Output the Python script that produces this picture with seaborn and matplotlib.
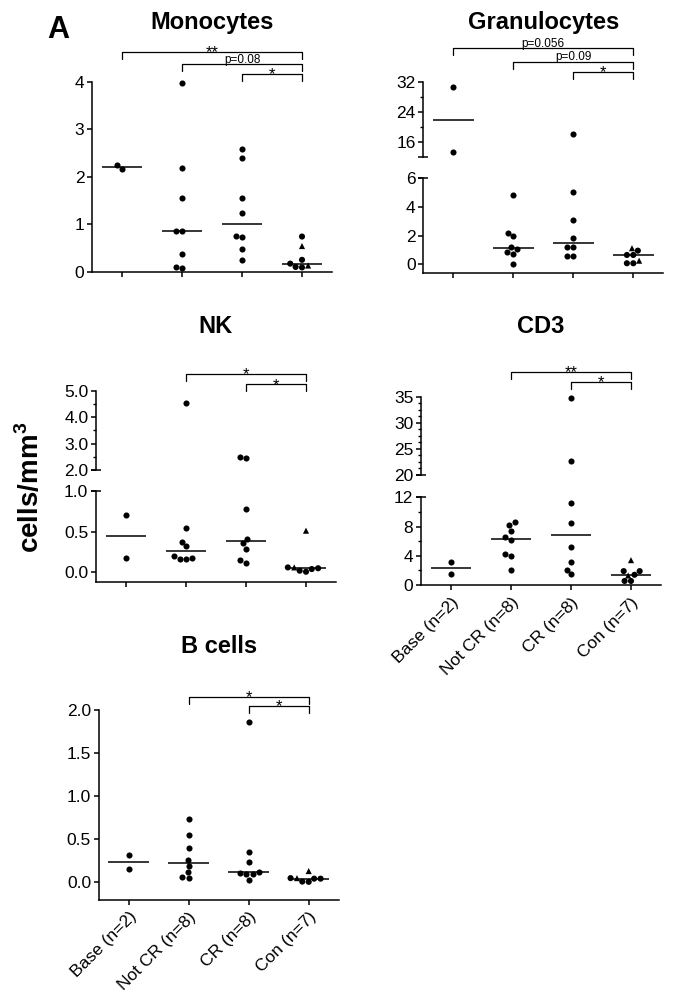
import numpy as np
import pandas as pd
import matplotlib
matplotlib.use('Agg')
import matplotlib.pyplot as plt
import matplotlib.transforms as mtransforms
from matplotlib.markers import MarkerStyle
from matplotlib.ticker import FixedLocator, FormatStrFormatter
import seaborn as sns

groups = ['Base (n=2)', 'Not CR (n=8)', 'CR (n=8)', 'Con (n=7)']

# cells/mm3; *_con_tri marks the triangle points in Con
mono_base = [2.17, 2.24]
mono_notcr = [3.97, 2.18, 1.55, 0.85, 0.85, 0.37, 0.08, 0.10]
mono_cr = [2.58, 2.40, 1.55, 1.24, 0.72, 0.75, 0.47, 0.25]
mono_con = [0.74, 0.54, 0.25, 0.13, 0.09, 0.10, 0.17]
mono_con_tri = [0, 1, 0, 1, 0, 0, 0]
mono_sig = [(0, 3, '**'), (1, 3, 'p=0.08'), (2, 3, '*')]

gran_base = [30.5, 13.3]
gran_notcr = [4.84, 2.21, 1.98, 1.19, 1.05, 0.84, 0.72, 0.05]
gran_cr = [18.1, 5.07, 3.12, 1.81, 1.19, 1.19, 0.60, 0.60]
gran_con = [1.12, 0.95, 0.65, 0.65, 0.25, 0.07, 0.07]
gran_con_tri = [1, 0, 0, 0, 1, 0, 0]
gran_sig = [(0, 3, 'p=0.056'), (1, 3, 'p=0.09'), (2, 3, '*')]

nk_base = [0.70, 0.18]
nk_notcr = [4.52, 0.54, 0.375, 0.32, 0.20, 0.17, 0.16, 0.16]
nk_cr = [2.51, 2.47, 0.78, 0.41, 0.355, 0.29, 0.15, 0.12]
nk_con = [0.51, 0.06, 0.04, 0.007, 0.02, 0.05, 0.06]
nk_con_tri = [1, 0, 0, 0, 0, 0, 1]
nk_sig = [(1, 3, '*'), (2, 3, '*')]

cd3_base = [3.2, 1.5]
cd3_notcr = [8.6, 8.2, 7.4, 6.5, 6.1, 4.3, 4.0, 2.0]
cd3_cr = [34.8, 22.7, 11.2, 8.45, 5.2, 3.2, 2.1, 1.5]
cd3_con = [3.4, 1.9, 1.9, 1.3, 1.4, 0.55, 0.55]
cd3_con_tri = [1, 0, 0, 1, 0, 0, 0]
cd3_sig = [(1, 3, '**'), (2, 3, '*')]

b_base = [0.317, 0.155]
b_notcr = [0.735, 0.55, 0.395, 0.263, 0.193, 0.124, 0.066, 0.054]
b_cr = [1.865, 0.356, 0.24, 0.123, 0.111, 0.10, 0.093, 0.027]
b_con = [0.13, 0.048, 0.042, 0.005, 0.008, 0.042, 0.048]
b_con_tri = [1, 0, 0, 0, 0, 0, 1]
b_sig = [(1, 3, '*'), (2, 3, '*')]

sns.set_style('ticks')
plt.rcParams['font.family'] = ['Liberation Sans', 'DejaVu Sans']
plt.rcParams['mathtext.fontset'] = 'custom'
plt.rcParams['mathtext.rm'] = 'Liberation Sans'
plt.rcParams['mathtext.bf'] = 'Liberation Sans:bold'
plt.rcParams['text.color'] = 'black'
plt.rcParams['axes.labelcolor'] = 'black'
plt.rcParams['axes.linewidth'] = 1.1
plt.rcParams['axes.edgecolor'] = 'black'
plt.rcParams['xtick.color'] = 'black'
plt.rcParams['ytick.color'] = 'black'
plt.rcParams['xtick.major.size'] = 3.5
plt.rcParams['ytick.major.size'] = 3.5
plt.rcParams['ytick.minor.size'] = 2
plt.rcParams['xtick.major.width'] = 1.1
plt.rcParams['ytick.major.width'] = 1.1
plt.rcParams['ytick.minor.width'] = 1.0
plt.rcParams['ytick.major.pad'] = 2
plt.rcParams['xtick.labelsize'] = 12.5
plt.rcParams['ytick.labelsize'] = 12.5

W, H = 674, 1006
fig = plt.figure(figsize=(W / 100, H / 100), dpi=100)

dot = MarkerStyle('o')
dot_path = dot.get_path().transformed(dot.get_transform())
tri = MarkerStyle('^')
tri_path = tri.get_path().transformed(tri.get_transform())


def make_df(base, notcr, cr, con):
    vals = [base, notcr, cr, con]
    return pd.DataFrame({
        'group': np.repeat(groups, [len(v) for v in vals]),
        'value': np.concatenate(vals),
    })


def add_ax(x0, y_top, y_bot):
    return fig.add_axes([x0 / W, 1 - y_bot / H, 240 / W, (y_bot - y_top) / H])


def draw(ax, df, con_tri, ylim, major, minor=None, fmt=None):
    sns.swarmplot(data=df, x='group', y='value', order=groups, color='black',
                  size=4.4, linewidth=0, ax=ax)
    ax.collections[-1].set_paths([tri_path if t else dot_path for t in con_tri])
    sns.boxplot(data=df, x='group', y='value', order=groups, width=0.68,
                showbox=False, showcaps=False, showfliers=False,
                whiskerprops={'visible': False},
                medianprops={'color': 'black', 'linewidth': 1.1}, ax=ax)
    ax.set_xlim(-0.5, 3.5)
    ax.set_ylim(*ylim)
    ax.set_xlabel('')
    ax.set_ylabel('')
    ax.yaxis.set_major_locator(FixedLocator(major))
    if minor is not None:
        ax.yaxis.set_minor_locator(FixedLocator(minor))
    if fmt is not None:
        ax.yaxis.set_major_formatter(FormatStrFormatter(fmt))
    sns.despine(ax=ax)
    ax.spines['left'].set_bounds(ylim[0], major[-1])


def top_part(ax):
    ax.spines['bottom'].set_visible(False)
    ax.tick_params(axis='x', bottom=False, labelbottom=False)


def cap(ax, yval):
    tr = mtransforms.blended_transform_factory(ax.transAxes, ax.transData)
    ax.plot([0], [yval], marker='_', ms=7, mew=1.1, color='black',
            transform=tr, clip_on=False)


def bracket(ax, sig, ys):
    tr = mtransforms.blended_transform_factory(ax.transData, fig.transFigure)
    for (i, j, label), y_px in zip(sig, ys):
        y = 1 - y_px / H
        d = 7 / H
        ax.plot([i, i, j, j], [y - d, y, y, y - d], color='black', lw=0.9,
                transform=tr, clip_on=False)
        if label.startswith('p'):
            ax.text((i + j) / 2, y + 1.5 / H, label, transform=tr,
                    ha='center', va='baseline', fontsize=8.5)
        else:
            ax.text((i + j) / 2, y - 5.5 / H, label, transform=tr,
                    ha='center', va='baseline', fontsize=12)


def title(ax, text, y_px):
    box = ax.get_position()
    fig.text((box.x0 + box.x1) / 2, 1 - y_px / H, text, ha='center',
             va='baseline', fontsize=17, fontweight='bold')


def xlabels(ax):
    ax.set_xticks(range(4))
    ax.set_xticklabels(groups, rotation=45, ha='right', rotation_mode='anchor')


# Monocytes
df = make_df(mono_base, mono_notcr, mono_cr, mono_con)
ax = add_ax(92, 77.9, 271.7)
draw(ax, df, mono_con_tri, (0, 4.08), [0, 1, 2, 3, 4])
ax.tick_params(axis='x', labelbottom=False)
bracket(ax, mono_sig, [52, 64.3, 74])
title(ax, 'Monocytes', 29)

# Granulocytes (broken axis)
df = make_df(gran_base, gran_notcr, gran_cr, gran_con)
ax_t = add_ax(423.3, 81.7, 156.7)
draw(ax_t, df, gran_con_tri, (12, 32), [16, 24, 32], [20, 28])
top_part(ax_t)
cap(ax_t, 12)
ax_b = add_ax(423.3, 178.3, 273.3)
draw(ax_b, df, gran_con_tri, (-0.63, 6), [0, 2, 4, 6])
ax_b.tick_params(axis='x', labelbottom=False)
cap(ax_b, 6)
bracket(ax_t, gran_sig, [48.3, 61.7, 71.7])
title(ax_t, 'Granulocytes', 29)

# NK (broken axis)
df = make_df(nk_base, nk_notcr, nk_cr, nk_con)
ax_t = add_ax(96, 390.7, 470)
draw(ax_t, df, nk_con_tri, (2, 5), [2, 3, 4, 5], [2.5, 3.5, 4.5], '%.1f')
top_part(ax_t)
cap(ax_t, 2)
ax_b = add_ax(96, 490.7, 581.7)
draw(ax_b, df, nk_con_tri, (-0.115, 1.0), [0, 0.5, 1.0], fmt='%.1f')
ax_b.tick_params(axis='x', labelbottom=False)
cap(ax_b, 1.0)
bracket(ax_t, nk_sig, [374, 384.3])
title(ax_t, 'NK', 332.7)

# CD3 (broken axis)
df = make_df(cd3_base, cd3_notcr, cd3_cr, cd3_con)
ax_t = add_ax(421, 393.6, 475)
draw(ax_t, df, cd3_con_tri, (20, 35.6), [20, 25, 30, 35],
     [21.25, 22.5, 23.75, 26.25, 27.5, 28.75, 31.25, 32.5, 33.75])
top_part(ax_t)
cap(ax_t, 20)
ax_b = add_ax(421, 497.3, 585)
draw(ax_b, df, cd3_con_tri, (0, 12), [0, 4, 8, 12], [2, 6, 10])
xlabels(ax_b)
cap(ax_b, 12)
bracket(ax_t, cd3_sig, [371.7, 381.7])
title(ax_t, 'CD3', 333.3)

# B cells
df = make_df(b_base, b_notcr, b_cr, b_con)
ax = add_ax(98.7, 710, 899.5)
draw(ax, df, b_con_tri, (-0.2, 2.0), [0, 0.5, 1.0, 1.5, 2.0], fmt='%.1f')
xlabels(ax)
bracket(ax, b_sig, [696.7, 706])
title(ax, 'B cells', 652.7)

fig.text(58 / W, 1 - 38.3 / H, 'A', ha='center', va='baseline',
         fontsize=22, fontweight='bold')
fig.text(30 / W, 1 - 487 / H, r'cells/mm$^{\mathbf{3}}$', rotation=90,
         ha='center', va='center', fontsize=20, fontweight='bold')

fig.savefig('out.png', dpi=100, facecolor='white')
